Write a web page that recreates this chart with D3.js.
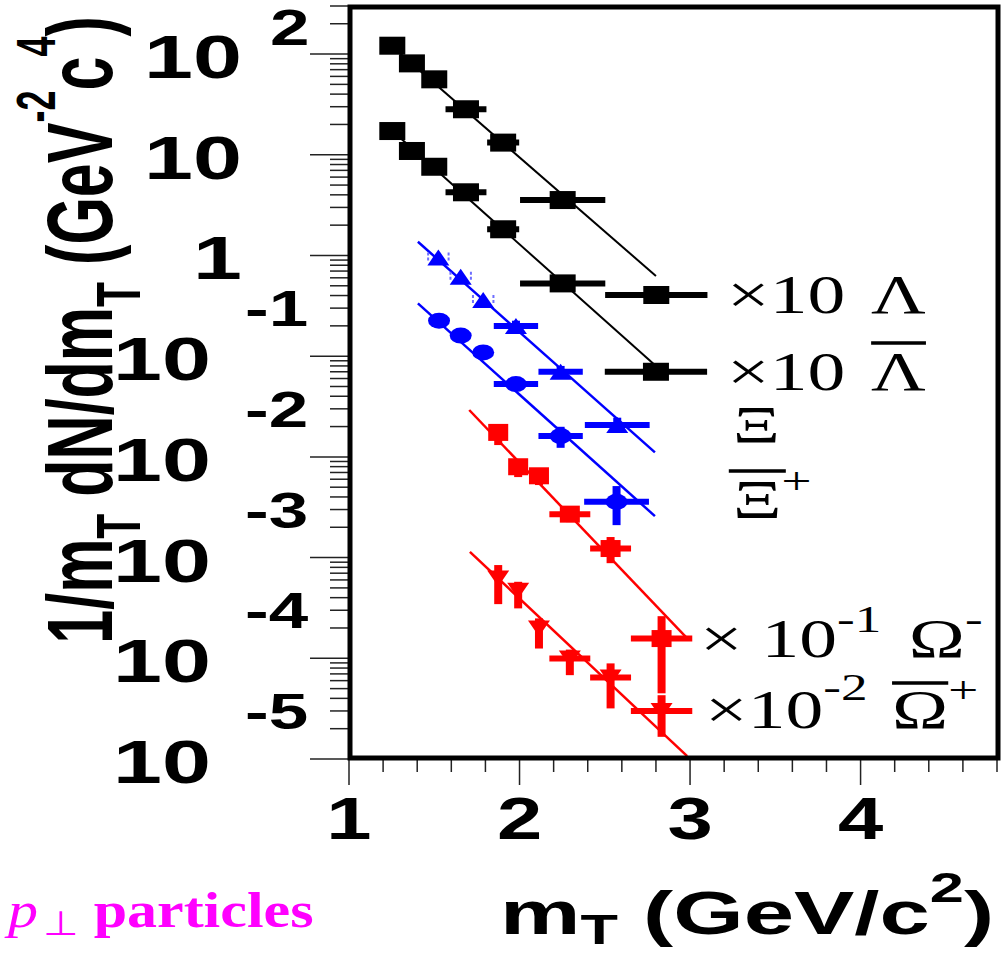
<!DOCTYPE html>
<html>
<head>
<meta charset="utf-8">
<script src="https://cdn.jsdelivr.net/npm/d3@7"></script>
<style>
  body { margin: 0; background: #fff; }
  svg { display: block; }
  text { white-space: pre; }
</style>
</head>
<body>
<svg id="chart" width="1008" height="957"></svg>
<script>
// Transverse-mass spectra of strange baryons: 1/mT dN/dmT vs mT, with exponential fits.

// ---- data ----------------------------------------------------------------
// Lambda (x10)
const lambdaMt   = [1.254, 1.369, 1.500, 1.686, 1.904, 2.253, 2.802];
const lambdaY    = [121, 80.8, 56.1, 28.3, 13.2, 3.55, 0.405];
const lambdaXErr = [0, 0, 0, 0.12, 0.094, 0.25, 0.30];
const lambdaFit  = [[1.25, 120], [2.80, 0.625]];

// anti-Lambda (x10)
const antiLambdaMt   = [1.254, 1.369, 1.500, 1.686, 1.904, 2.253, 2.800];
const antiLambdaY    = [17.2, 10.9, 7.60, 4.24, 1.82, 0.528, 0.070];
const antiLambdaXErr = [0, 0, 0, 0.12, 0.094, 0.25, 0.30];
const antiLambdaFit  = [[1.25, 17.5], [2.80, 0.080]];

// Xi-
const xiMinusMt   = [1.524, 1.655, 1.787, 1.979, 2.241, 2.573];
const xiMinusY    = [0.957, 0.615, 0.361, 0.199, 0.070, 0.0207];
const xiMinusXErr = [0.06, 0.06, 0.06, 0.13, 0.13, 0.19];
const xiMinusYLo  = [null, null, null, 0.175, 0.061, 0.0174];
const xiMinusYHi  = [null, null, null, 0.225, 0.080, 0.0245];
const xiMinusFit  = [[1.404, 1.368], [2.794, 0.0111]];

// anti-Xi+
const xiPlusMt   = [1.528, 1.655, 1.787, 1.979, 2.241, 2.569];
const xiPlusY    = [0.225, 0.160, 0.109, 0.0528, 0.0161, 0.00358];
const xiPlusXErr = [0, 0, 0, 0.13, 0.13, 0.19];
const xiPlusYLo  = [null, null, null, null, 0.0123, 0.0021];
const xiPlusYHi  = [null, null, null, null, 0.0199, 0.00513];
const xiPlusFit  = [[1.404, 0.334], [2.794, 0.00258]];

// Omega- (x10^-1)
const omegaMt   = [1.875, 1.992, 2.114, 2.295, 2.534, 2.833];
const omegaY    = [0.0175, 0.00798, 0.00649, 0.00270, 0.00123, 1.57e-4];
const omegaXErr = [0, 0, 0, 0.12, 0.12, 0.18];
const omegaYLo  = [0.0131, 0.0063, 0.00525, 0.00225, 0.00088, 4.49e-5];
const omegaYHi  = [0.0207, 0.0095, 0.00774, 0.00317, 0.0016, 2.62e-4];
const omegaFit  = [[1.705, 0.0292], [2.989, 1.54e-4]];

// anti-Omega+ (x10^-2)
const antiOmegaMt   = [1.875, 1.992, 2.114, 2.295, 2.534, 2.833];
const antiOmegaY    = [6.21e-4, 4.69e-4, 1.98e-4, 9.97e-5, 6.46e-5, 2.99e-5];
const antiOmegaXErr = [0, 0, 0, 0.12, 0.12, 0.18];
const antiOmegaYLo  = [3.45e-4, 3.13e-4, 1.25e-4, 6.8e-5, 3.18e-5, 1.66e-5];
const antiOmegaYHi  = [8.43e-4, 5.75e-4, 2.49e-4, 1.22e-4, 8.9e-5, 4.3e-5];
const antiOmegaFit  = [[1.709, 1.14e-3], [2.983, 1.07e-5]];

// axes
const xDomain = [1, 4.8];
const yDomain = [1e-5, 300];
const xMajorTicks = [1, 2, 3, 4];
const xTickLabels = ["1", "2", "3", "4"];
const yMajorTicks = [1e2, 1e1, 1e0, 1e-1, 1e-2, 1e-3, 1e-4, 1e-5];

// ---- layout ---------------------------------------------------------------
const W = 1008, H = 957;
const margin = { left: 349, right: 11, top: 6, bottom: 198 };
const svg = d3.select("#chart");

const x = d3.scaleLinear().domain(xDomain).range([margin.left, W - margin.right]);
const y = d3.scaleLog().domain(yDomain).range([H - margin.bottom, margin.top]);

const SANS = "'Liberation Sans', Arial, Helvetica, sans-serif";
const SERIF = "'Liberation Serif', 'Times New Roman', serif";

function zip(mt, v, xe, lo, hi) {
  return mt.map((m, i) => ({
    mt: m, v: v[i], xerr: xe ? xe[i] : 0,
    lo: lo ? lo[i] : null, hi: hi ? hi[i] : null
  }));
}

const series = [
  { pts: zip(lambdaMt, lambdaY, lambdaXErr), fit: lambdaFit, color: "#000000", marker: "square", w: 26, h: 18, fitW: 2 },
  { pts: zip(antiLambdaMt, antiLambdaY, antiLambdaXErr), fit: antiLambdaFit, color: "#000000", marker: "square", w: 26, h: 18, fitW: 2 },
  { pts: zip(xiMinusMt, xiMinusY, xiMinusXErr, xiMinusYLo, xiMinusYHi), fit: xiMinusFit, color: "#0000ff", marker: "triUp", w: 22, h: 16, fitW: 2.5 },
  { pts: zip(xiPlusMt, xiPlusY, xiPlusXErr, xiPlusYLo, xiPlusYHi), fit: xiPlusFit, color: "#0000ff", marker: "circle", w: 22, h: 16, fitW: 2.5 },
  { pts: zip(omegaMt, omegaY, omegaXErr, omegaYLo, omegaYHi), fit: omegaFit, color: "#ff0000", marker: "square", w: 20, h: 17, fitW: 2.5 },
  { pts: zip(antiOmegaMt, antiOmegaY, antiOmegaXErr, antiOmegaYLo, antiOmegaYHi), fit: antiOmegaFit, color: "#ff0000", marker: "triDown", w: 22, h: 16, fitW: 2.5 }
];

// ---- axis ticks -----------------------------------------------------------
const axisG = svg.append("g").attr("stroke", "#222").attr("stroke-width", 1.5);
const xMinor = d3.range(0, 20).map(i => xDomain[0] + i * 0.2).filter(t => t <= xDomain[1] + 1e-9);
xMinor.forEach(t => {
  const major = xMajorTicks.some(m => Math.abs(m - t) < 1e-9);
  axisG.append("line")
    .attr("x1", x(t)).attr("x2", x(t))
    .attr("y1", y(yDomain[0])).attr("y2", y(yDomain[0]) + (major ? 26 : 13));
});
for (let e = -5; e <= 2; e++) {
  for (let k = 1; k <= 9; k++) {
    const v = k * Math.pow(10, e);
    if (v < yDomain[0] * 0.999 || v > yDomain[1] * 1.001) continue;
    axisG.append("line")
      .attr("x1", x(xDomain[0]) - (k === 1 ? 39 : 19)).attr("x2", x(xDomain[0]))
      .attr("y1", y(v)).attr("y2", y(v));
  }
}

// stretched text group helper
function stretched(parent, tx, ty, sx, rot) {
  return parent.append("g")
    .attr("transform", `translate(${tx},${ty}) scale(${sx},1)` + (rot ? ` rotate(${rot})` : ""));
}

// simple rich-text layout: parts laid out left to right, optional overline
function richText(g, parts, base) {
  let cx = 0;
  parts.forEach(p => {
    const t = g.append("text")
      .attr("x", cx + (p.dx || 0))
      .attr("y", p.dy || 0)
      .attr("font-family", p.family || base.family)
      .attr("font-size", p.size || base.size)
      .attr("font-weight", p.weight || base.weight || "normal")
      .attr("font-style", p.style || "normal")
      .attr("fill", base.fill)
      .text(p.t);
    const w = t.node().getComputedTextLength();
    if (p.over) {
      const ext = p.overExt || 0;
      g.append("line")
        .attr("x1", cx + (p.dx || 0) - ext).attr("x2", cx + (p.dx || 0) + w + ext)
        .attr("y1", p.overY).attr("y2", p.overY)
        .attr("stroke", base.fill).attr("stroke-width", 3.3);
    }
    cx += (p.dx || 0) + w;
  });
}

// x tick labels
xMajorTicks.forEach((t, i) => {
  stretched(svg, x(t), 839, 1.38).append("text")
    .attr("text-anchor", "middle")
    .attr("font-family", SANS).attr("font-weight", "bold").attr("font-size", 59)
    .text(xTickLabels[i]);
});

// y tick labels in 10^n form
yMajorTicks.forEach(v => {
  const e = Math.round(Math.log10(v));
  const base = e === 0 ? "1" : "10";
  const sup = (e === 0 || e === 1) ? "" : String(e);
  const neg = e < 0;
  const ty = y(v);
  stretched(svg, neg ? 211 : 242, ty + 24, 1.42).append("text")
    .attr("text-anchor", "end")
    .attr("font-family", SANS).attr("font-weight", "bold").attr("font-size", 62)
    .text(base);
  if (sup) {
    stretched(svg, neg ? 245 : 270, ty + (neg ? -30 : -9), 1.42).append("text")
      .attr("font-family", SANS).attr("font-weight", "bold").attr("font-size", 50)
      .text(sup);
  }
});

// axis titles
const xt = stretched(svg, 500, 934, 1.46).append("text")
  .attr("font-family", SANS).attr("font-weight", "bold").attr("font-size", 62);
xt.append("tspan").text("m");
xt.append("tspan").attr("font-size", 42).attr("dy", 10).text("T");
xt.append("tspan").attr("dy", -10).text(" (GeV/c");
xt.append("tspan").attr("font-size", 42).attr("dy", -32).text("2");
xt.append("tspan").attr("dy", 32).text(")");

const yt = stretched(svg, 112, 330, 1.53, -90).append("text")
  .attr("text-anchor", "middle")
  .attr("font-family", SANS).attr("font-weight", "bold").attr("font-size", 61);
yt.append("tspan").text("1/m");
yt.append("tspan").attr("font-size", 41).attr("dy", 18).text("T");
yt.append("tspan").attr("dy", -18).text(" dN/dm");
yt.append("tspan").attr("font-size", 41).attr("dy", 18).text("T");
yt.append("tspan").attr("dy", -18).text(" (GeV");
yt.append("tspan").attr("font-size", 36).attr("dy", -37).text("-2");
yt.append("tspan").attr("dy", 37).text("c");
yt.append("tspan").attr("font-size", 36).attr("dy", -37).text("4");
yt.append("tspan").attr("dy", 37).text(")");

// ---- plot contents --------------------------------------------------------
const plotG = svg.append("g");
const line = d3.line().x(d => x(d[0])).y(d => y(d[1]));

// fit lines
series.forEach(s => {
  plotG.append("path").attr("d", line(s.fit))
    .attr("fill", "none").attr("stroke", s.color).attr("stroke-width", s.fitW);
});

// error bars
series.forEach(s => {
  s.pts.forEach(p => {
    const cx = x(p.mt), cy = y(p.v);
    if (p.xerr > 0.08) {
      plotG.append("line")
        .attr("x1", x(p.mt - p.xerr)).attr("x2", x(p.mt + p.xerr))
        .attr("y1", cy).attr("y2", cy)
        .attr("stroke", s.color).attr("stroke-width", 6);
    } else if (p.xerr > 0) {
      // narrow bin: only the end caps show beside the marker
      [p.mt - p.xerr, p.mt + p.xerr].forEach(xe => {
        plotG.append("line")
          .attr("x1", x(xe)).attr("x2", x(xe))
          .attr("y1", cy - 5).attr("y2", cy + 5)
          .attr("stroke", "#6f6fff").attr("stroke-width", 2)
          .attr("stroke-dasharray", "3,2");
      });
    }
    if (p.lo != null && p.hi != null) {
      plotG.append("line")
        .attr("x1", cx).attr("x2", cx)
        .attr("y1", y(p.lo)).attr("y2", y(p.hi))
        .attr("stroke", s.color).attr("stroke-width", 8);
    }
  });
});

// markers
series.forEach(s => {
  s.pts.forEach(p => {
    const cx = x(p.mt), cy = y(p.v), w = s.w, h = s.h;
    if (s.marker === "square") {
      plotG.append("rect").attr("x", cx - w / 2).attr("y", cy - h / 2)
        .attr("width", w).attr("height", h).attr("fill", s.color);
    } else if (s.marker === "circle") {
      plotG.append("ellipse").attr("cx", cx).attr("cy", cy)
        .attr("rx", w / 2).attr("ry", h / 2).attr("fill", s.color);
    } else if (s.marker === "triUp") {
      plotG.append("path")
        .attr("d", `M${cx - w / 2},${cy + h / 2}L${cx + w / 2},${cy + h / 2}L${cx},${cy - h / 2}Z`)
        .attr("fill", s.color);
    } else if (s.marker === "triDown") {
      plotG.append("path")
        .attr("d", `M${cx - w / 2},${cy - h / 2}L${cx + w / 2},${cy - h / 2}L${cx},${cy + h / 2}Z`)
        .attr("fill", s.color);
    }
  });
});

// frame
svg.append("rect")
  .attr("x", x(xDomain[0]) + 1).attr("y", y(yDomain[1]) + 1)
  .attr("width", x(xDomain[1]) - x(xDomain[0])).attr("height", y(yDomain[0]) - y(yDomain[1]) - 2)
  .attr("fill", "none").attr("stroke", "#000").attr("stroke-width", 5);

// ---- labels inside the frame ---------------------------------------------
const serifBase = { family: SERIF, size: 54, fill: "#000" };
richText(stretched(svg, 727, 313, 1.4), [{ t: "\u00d710 " }, { t: "\u039b", dx: 5 }], serifBase);
richText(stretched(svg, 727, 390, 1.4), [{ t: "\u00d710 " }, { t: "\u039b", dx: 5, over: true, overY: -47 }], serifBase);
richText(stretched(svg, 733, 443, 1.4), [{ t: "\u039e", size: 52 }], serifBase);
richText(stretched(svg, 733, 518, 1.4), [{ t: "\u039e", over: true, overY: -47, overExt: 3 }, { t: "+", size: 38, dy: -24 }], serifBase);
richText(stretched(svg, 700, 657, 1.4), [
  { t: "\u00d7 10" }, { t: "-1", size: 38, dy: -25 }, { t: " " }, { t: "\u03a9", dx: 6 }, { t: "-", size: 38, dy: -25 }
], serifBase);
richText(stretched(svg, 705, 728, 1.4), [
  { t: "\u00d710" }, { t: "-2", size: 38, dy: -28 }, { t: " " }, { t: "\u03a9", dx: 4, over: true, overY: -45 }, { t: "+", size: 38, dy: -25 }
], serifBase);

// note in the lower-left corner
richText(stretched(svg, 8, 927, 1.2), [
  { t: "p", style: "italic" },
  { t: "\u22a5", size: 34, dy: 8, dx: 4 },
  { t: " " },
  { t: "particles", weight: "bold" }
], { family: SERIF, size: 50, fill: "#ff00ff" });
</script>
</body>
</html>
